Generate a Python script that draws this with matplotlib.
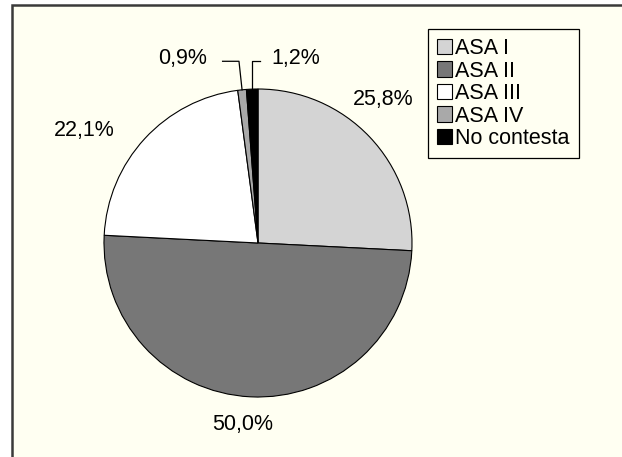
import numpy as np
import matplotlib
matplotlib.use("Agg")
import matplotlib.pyplot as plt
from matplotlib.patches import Rectangle, Patch

plt.rcParams["font.family"] = ["Liberation Sans", "DejaVu Sans"]

# data
categories = ["ASA I", "ASA II", "ASA III", "ASA IV", "No contesta"]
values = [25.8, 50.0, 22.1, 0.9, 1.2]
colors = ["#D4D4D4", "#777777", "#FFFFFF", "#A9A9A9", "#000000"]

# label layout (data units, pie radius = 1)
big_label_xy = {0: (0.81, 0.93), 1: (-0.10, -1.18), 2: (-1.13, 0.73)}
leader_y = 1.18
leader_end_x = {3: -0.23, 4: 0.015}
small_label_gap = 0.10

W, H = 622, 457
fig = plt.figure(figsize=(W / 100, H / 100), dpi=100)
fig.patch.set_facecolor("white")

# outer chart frame (runs off the right and bottom edges)
fig.patches.append(Rectangle((12 / W, -0.1), 1.2, 1 - 5.5 / H + 0.1,
                             transform=fig.transFigure, facecolor="#FFFFF2",
                             edgecolor="#3A3A3A", linewidth=1.8, zorder=-5))

cx, cy, R = 258, 243, 154
ax = fig.add_axes([(cx - R) / W, (H - cy - R) / H, 2 * R / W, 2 * R / H])
ax.set_zorder(2)

wedges, _ = ax.pie(values, colors=colors, startangle=90, counterclock=False,
                   radius=1, wedgeprops=dict(edgecolor="black", linewidth=0.8))
for w in wedges:
    w.set_clip_on(False)
ax.set_xlim(-1, 1)
ax.set_ylim(-1, 1)
ax.axis("off")

fs = 15.5
for i, (w, v) in enumerate(zip(wedges, values)):
    text = f"{v:.1f}".replace(".", ",") + "%"
    if i in big_label_xy:
        x, y = big_label_xy[i]
        ax.text(x, y, text, ha="center", va="center", fontsize=fs)
    else:
        mid = np.deg2rad((w.theta1 + w.theta2) / 2)
        x0, y0 = np.cos(mid), np.sin(mid)
        xe = leader_end_x[i]
        elbow_x = x0 - 0.02 if xe < x0 else x0
        ax.plot([x0, elbow_x, xe], [y0, leader_y, leader_y], color="black",
                linewidth=0.9, clip_on=False)
        if xe < x0:
            ax.text(xe - small_label_gap, leader_y + 0.02, text, ha="right",
                    va="center", fontsize=fs)
        else:
            ax.text(xe + small_label_gap * 0.75, leader_y + 0.02, text,
                    ha="left", va="center", fontsize=fs)

handles = [Patch(facecolor=c, edgecolor="black", linewidth=0.8) for c in colors]
leg = fig.legend(handles, categories, loc="upper left",
                 bbox_to_anchor=(428 / W, 1 - 29 / H), fontsize=fs,
                 frameon=True, fancybox=False, edgecolor="black",
                 facecolor="#FFFFF2", framealpha=1, labelspacing=0.07,
                 handlelength=0.7, handleheight=0.7, handletextpad=0.15,
                 borderpad=0.42, borderaxespad=0)
leg.get_frame().set_linewidth(0.9)

fig.savefig("out.png", dpi=100)
